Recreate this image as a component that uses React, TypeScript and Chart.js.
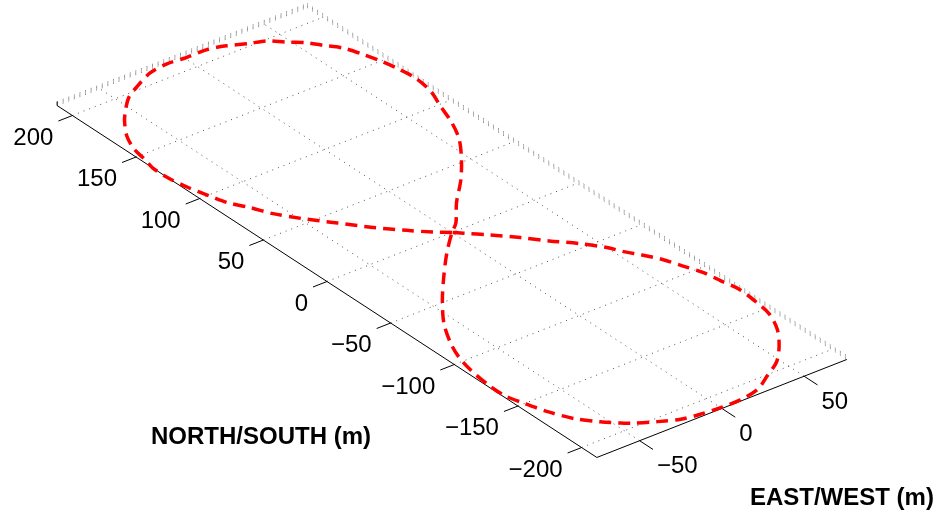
import { useEffect, useRef } from "react";
import { Chart, registerables } from "chart.js";

Chart.register(...registerables);

// Tick values on the two horizontal axes (metres)
const NS_TICKS = [-200, -150, -100, -50, 0, 50, 100, 150, 200];
const EW_TICKS = [-50, 0, 50];
const NS_LIMITS = [-212, 212];
const EW_LIMITS = [-76, 76];
// heights of the (very thin) back walls of the 3-D box
const Z_LEVELS = [0, 1, 2, 3];

// Figure-eight ground track, north/south and east/west components (m)
const ROUTE_NS = [
  0, 6, 15, 27, 41, 55, 67, 78, 89, 100, 112, 125, 137, 146, 157, 169, 181, 188, 197, 203,
  209, 211, 210, 210, 207, 202, 199, 192, 186, 179, 171, 160, 149, 138, 126, 112, 98, 83, 68, 52,
  37, 21, 6, 0, -14, -31, -48, -66, -83, -96, -109, -126, -138, -150, -163, -176, -186, -193, -197, -203,
  -208, -210, -211, -211, -208, -201, -193, -182, -169, -155, -142, -127, -116, -104, -93, -82, -73, -65, -57, -46,
  -35, -24, -13, -4, 0,
];
const ROUTE_EW = [
  0, -7, -16, -27, -38, -49, -57, -62, -68, -71, -74, -76, -76, -74, -72, -67, -59, -53, -44, -34,
  -22, -10, 1, 13, 23, 33, 41, 48, 55, 60, 66, 70, 73, 75, 76, 74, 69, 64, 57, 46,
  34, 19, 7, 0, -14, -29, -43, -56, -65, -70, -73, -75, -75, -72, -68, -62, -54, -47, -42, -32,
  -22, -12, 0, 12, 25, 36, 48, 58, 67, 73, 75, 76, 74, 72, 68, 64, 59, 54, 50, 42,
  32, 23, 13, 4, 0,
];

// Oblique view of the north/south, east/west plane (pixels per metre)
const VIEW = {
  cx: 452,
  cy: 232.5,
  ns: [-1.273, -0.83],
  ew: [1.645, -0.645],
  z: [0, -1.3],
};
const WIDTH = 940;
const HEIGHT = 517;
const FONT = '"Liberation Sans", Arial, Helvetica, sans-serif';

type P = { x: number; y: number };

function project(ns: number, ew: number, z = 0): P {
  return {
    x: VIEW.cx + ns * VIEW.ns[0] + ew * VIEW.ew[0] + z * VIEW.z[0],
    y: VIEW.cy + ns * VIEW.ns[1] + ew * VIEW.ew[1] + z * VIEW.z[1],
  };
}

const fmt = (v: number) => (v < 0 ? "\u2212" + Math.abs(v) : String(v));

function segment(data: P[], color: string, width: number, dash: number[], order: number) {
  return {
    data,
    showLine: true,
    borderColor: color,
    borderWidth: width,
    borderDash: dash,
    borderCapStyle: "butt" as const,
    pointRadius: 0,
    pointHoverRadius: 0,
    tension: 0,
    fill: false,
    clip: false as const,
    order,
  };
}

export default function App() {
  const ref = useRef<HTMLCanvasElement | null>(null);

  useEffect(() => {
    const canvas = ref.current;
    if (!canvas) return;
    const [nsMin, nsMax] = NS_LIMITS;
    const [ewMin, ewMax] = EW_LIMITS;
    const nsTickLen = 8.5; // in east/west metres
    const ewTickLen = 10.5; // in north/south metres

    const datasets: any[] = [];
    const gridColor = "rgba(40,40,40,0.8)";
    const dots = [1, 5];

    // floor grid
    NS_TICKS.forEach((ns) =>
      datasets.push(segment([project(ns, ewMin), project(ns, ewMax)], gridColor, 1, dots, 5))
    );
    EW_TICKS.forEach((ew) =>
      datasets.push(segment([project(nsMin, ew), project(nsMax, ew)], gridColor, 1, dots, 5))
    );
    // back walls, seen almost edge-on
    Z_LEVELS.forEach((z) => {
      datasets.push(
        segment([project(nsMax, ewMin, z), project(nsMax, ewMax, z)], "rgba(90,90,90,0.8)", 1, dots, 5)
      );
      datasets.push(
        segment([project(nsMax, ewMax, z), project(nsMin, ewMax, z)], "rgba(90,90,90,0.8)", 1, dots, 5)
      );
    });

    // axes and tick marks
    datasets.push(segment([project(nsMax, ewMin), project(nsMin, ewMin)], "#000", 1, [], 3));
    datasets.push(segment([project(nsMin, ewMin), project(nsMin, ewMax)], "#000", 1, [], 3));
    datasets.push(
      segment([project(nsMax, ewMin, 0), project(nsMax, ewMin, Z_LEVELS[Z_LEVELS.length - 1])], "#000", 1, [], 3)
    );
    NS_TICKS.forEach((ns) =>
      datasets.push(segment([project(ns, ewMin), project(ns, ewMin - nsTickLen)], "#000", 1, [], 3))
    );
    EW_TICKS.forEach((ew) =>
      datasets.push(segment([project(nsMin, ew), project(nsMin - ewTickLen, ew)], "#000", 1, [], 3))
    );

    // the flight path
    const route = ROUTE_NS.map((ns, i) => project(ns, ROUTE_EW[i]));
    datasets.push({ ...segment(route, "#ff0000", 3.5, [12, 7], 0), tension: 0.3 });

    const labels = {
      id: "axisText",
      afterDatasetsDraw(chart: any) {
        const { ctx, scales } = chart;
        const px = (p: P) => ({ x: scales.x.getPixelForValue(p.x), y: scales.y.getPixelForValue(p.y) });
        ctx.save();
        ctx.fillStyle = "#000";
        ctx.font = `24px ${FONT}`;
        ctx.textBaseline = "middle";
        ctx.textAlign = "right";
        NS_TICKS.forEach((ns) => {
          const e = px(project(ns, ewMin - nsTickLen));
          ctx.fillText(fmt(ns), e.x - 5, e.y + 17);
        });
        ctx.textAlign = "left";
        EW_TICKS.forEach((ew) => {
          const e = px(project(nsMin - ewTickLen, ew));
          ctx.fillText(fmt(ew), e.x + 4, e.y + 17);
        });
        ctx.font = `bold 24px ${FONT}`;
        ctx.textAlign = "center";
        const nsMid = px(project(0, ewMin));
        ctx.fillText("NORTH/SOUTH (m)", nsMid.x - 66, nsMid.y + 156);
        const ewMid = px(project(nsMin, 0));
        ctx.fillText("EAST/WEST (m)", ewMid.x + 120, ewMid.y + 90);
        ctx.restore();
      },
    };

    const chart = new Chart(canvas, {
      type: "scatter",
      data: { datasets },
      options: {
        animation: false,
        responsive: false,
        maintainAspectRatio: false,
        layout: { padding: 0 },
        events: [],
        plugins: { legend: { display: false }, tooltip: { enabled: false } },
        scales: {
          x: { type: "linear", min: 0, max: WIDTH, display: false },
          y: { type: "linear", min: 0, max: HEIGHT, reverse: true, display: false },
        },
      },
      plugins: [labels],
    });
    return () => chart.destroy();
  }, []);

  return (
    <div style={{ position: "fixed", left: 0, top: 0, width: WIDTH, height: HEIGHT, background: "#fff" }}>
      <canvas ref={ref} width={WIDTH} height={HEIGHT} style={{ display: "block" }} />
    </div>
  );
}
